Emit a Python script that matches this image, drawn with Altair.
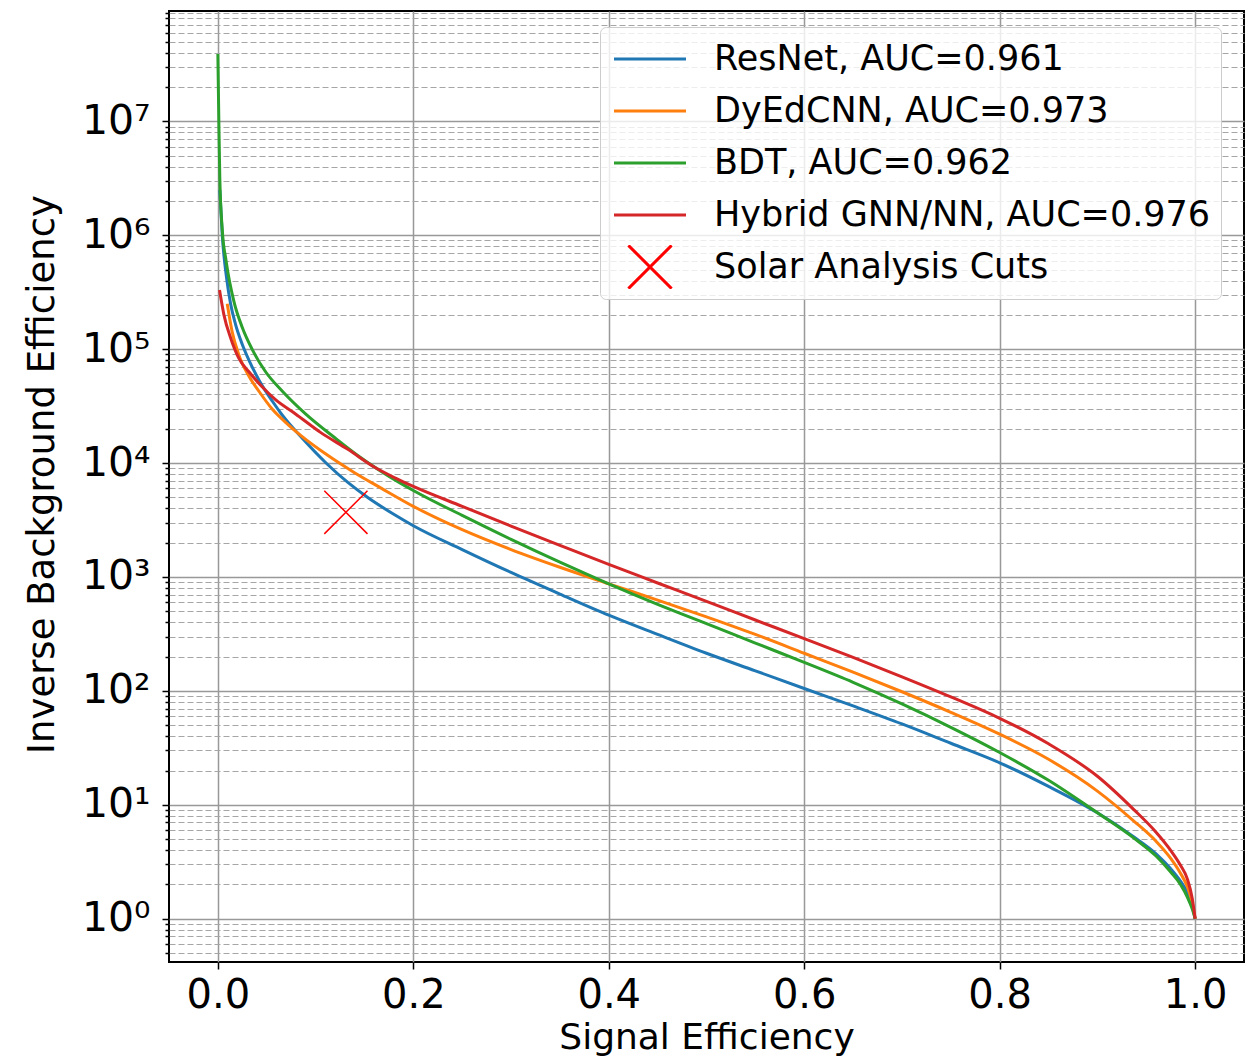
import altair as alt
import pandas as pd

# ---------------- data ----------------
series_names = ["ResNet, AUC=0.961", "DyEdCNN, AUC=0.973", "BDT, AUC=0.962", "Hybrid GNN/NN, AUC=0.976"]
marker_name = "Solar Analysis Cuts"
series_colors = ["#1f77b4", "#ff7f0e", "#2ca02c", "#d62728", "#ff0000"]

resnet_x = [0.002, 0.0045, 0.009, 0.013, 0.018, 0.025, 0.032, 0.042, 0.056, 0.066, 0.085, 0.112, 0.133,
            0.153, 0.18, 0.2, 0.25, 0.3, 0.35, 0.4, 0.45, 0.5, 0.55, 0.6, 0.65, 0.7, 0.75, 0.8, 0.85,
            0.9, 0.937, 0.96, 0.975, 0.985, 0.992, 0.997, 1.0]
resnet_y = [2.5e6, 1.0e6, 4.17e5, 2.51e5, 1.66e5, 1.10e5, 7.94e4, 5.37e4, 3.47e4, 2.63e4, 1.70e4, 9770, 6760,
            5010, 3550, 2820, 1740, 1096, 708, 462, 313, 214, 150, 105, 73.8, 51.3, 34.7, 23.4, 14.5,
            8.51, 5.25, 3.72, 2.75, 2.14, 1.70, 1.32, 1.0]

dyed_x = [0.0096, 0.0147, 0.0215, 0.032, 0.042, 0.056, 0.069, 0.085, 0.112, 0.139, 0.167, 0.2, 0.25, 0.3,
          0.35, 0.4, 0.45, 0.5, 0.55, 0.6, 0.65, 0.7, 0.75, 0.8, 0.85, 0.9, 0.937, 0.96, 0.975, 0.985,
          0.992, 0.997, 1.0]
dyed_y = [2.5e5, 1.41e5, 8.9e4, 5.75e4, 4.27e4, 2.95e4, 2.29e4, 1.74e4, 1.175e4, 8320, 6030, 4170, 2600, 1740,
          1217, 871, 627, 447, 313, 214, 146, 98.3, 64.9, 41.7, 25.1, 13.2, 7.24, 4.79, 3.39, 2.51,
          1.91, 1.38, 1.0]

bdt_x = [0.0, 0.001, 0.002, 0.0045, 0.0085, 0.0164, 0.025, 0.035, 0.049, 0.066, 0.09, 0.12, 0.146, 0.174, 0.2,
         0.25, 0.3, 0.35, 0.4, 0.45, 0.5, 0.55, 0.6, 0.65, 0.7, 0.75, 0.8, 0.85, 0.9, 0.937, 0.96, 0.975,
         0.985, 0.992, 0.997, 1.0]
bdt_y = [3.9e7, 1.0e7, 3.16e6, 1.12e6, 5.9e5, 2.63e5, 1.55e5, 1.0e5, 6.3e4, 4.27e4, 2.69e4, 1.66e4, 1.12e4, 7760,
         5750, 3470, 2140, 1350, 871, 575, 389, 263, 178, 119, 76.8, 47.9, 28.8, 16.4, 8.51, 5.13, 3.55, 2.57,
         2.0, 1.55, 1.22, 1.0]

hybrid_x = [0.0017, 0.0062, 0.013, 0.0215, 0.032, 0.045, 0.059, 0.0795, 0.105, 0.133, 0.16, 0.18, 0.2, 0.25,
            0.3, 0.35, 0.4, 0.45, 0.5, 0.55, 0.6, 0.65, 0.7, 0.75, 0.8, 0.85, 0.9, 0.937, 0.96, 0.975,
            0.985, 0.992, 0.997, 1.0]
hybrid_y = [3.3e5, 2.0e5, 1.26e5, 8.3e4, 6.3e4, 4.7e4, 3.6e4, 2.7e4, 1.86e4, 1.32e4, 9230, 7500, 6240, 4170,
            2800, 1895, 1288, 886, 610, 419, 288, 197, 133, 88.6, 57.5, 34.3, 17.8, 9.12, 5.75, 3.98,
            2.95, 2.24, 1.51, 1.0]

marker_x = [0.131]
marker_y = [3700]

x_ticks = [0.0, 0.2, 0.4, 0.6, 0.8, 1.0]
y_major = [1, 10, 100, 1000, 10000, 100000, 1000000, 10000000]
y_major_labels = ["10⁰", "10¹", "10²", "10³", "10⁴", "10⁵", "10⁶", "10⁷"]
y_minor = [0.5, 0.6, 0.7, 0.8, 0.9,
           2, 3, 4, 5, 6, 7, 8, 9,
           20, 30, 40, 50, 60, 70, 80, 90,
           200, 300, 400, 500, 600, 700, 800, 900,
           2000, 3000, 4000, 5000, 6000, 7000, 8000, 9000,
           20000, 30000, 40000, 50000, 60000, 70000, 80000, 90000,
           200000, 300000, 400000, 500000, 600000, 700000, 800000, 900000,
           2000000, 3000000, 4000000, 5000000, 6000000, 7000000, 8000000, 9000000,
           20000000, 30000000, 40000000, 50000000, 60000000, 70000000, 80000000, 90000000]

x_domain = [-0.05, 1.05]
y_domain = [0.417, 9.3e7]

# ---------------- tables ----------------
all_x = [resnet_x, dyed_x, bdt_x, hybrid_x]
all_y = [resnet_y, dyed_y, bdt_y, hybrid_y]
frames = {}
for name, xs, ys in zip(series_names, all_x, all_y):
    frames[name] = pd.DataFrame({"series": [name] * len(xs), "x": xs, "y": ys})
marker_df = pd.DataFrame({"series": [marker_name] * len(marker_x), "x": marker_x, "y": marker_y})

legend_domain = series_names + [marker_name]
line_path = "M-2,0H2"
cross_path = "M-1.2,-1.2L1.2,1.2M-1.2,1.2L1.2,-1.2"
shape_range = [line_path] * len(series_names) + [cross_path]

FONT = "DejaVu Sans"

is_major = "indexof([" + ",".join(str(v) for v in y_major) + "], datum.value) >= 0"
label_expr = "''"
for v, lab in reversed(list(zip(y_major, y_major_labels))):
    label_expr = f"datum.value == {v} ? '{lab}' : ({label_expr})"

x_axis = alt.Axis(
    values=x_ticks, format=".1f", labelFont=FONT, labelFontSize=40, labelColor="black",
    labelPadding=6, labelFlush=False, labelOverlap=False,
    tickSize=7, tickWidth=1.5, tickColor="black", domain=False,
    grid=True, gridColor="#999999", gridWidth=1.5,
    title="Signal Efficiency", titleFont=FONT, titleFontSize=36, titleFontWeight="normal",
    titleColor="black", titlePadding=5,
)
y_axis = alt.Axis(
    values=y_major + y_minor, labelExpr=label_expr, labelFont=FONT, labelFontSize=41, labelColor="black",
    labelPadding=12, labelOverlap=False, labelFlush=False,
    tickSize={"condition": {"test": is_major, "value": 7}, "value": 4},
    tickWidth=1.5, tickColor="black", domain=False,
    grid=True,
    gridColor={"condition": {"test": is_major, "value": "#999999"}, "value": "#a6a6a6"},
    gridWidth={"condition": {"test": is_major, "value": 1.5}, "value": 1.2},
    gridDash={"condition": {"test": is_major, "value": []}, "value": [6, 3]},
    title="Inverse Background Efficiency", titleFont=FONT, titleFontSize=37, titleFontWeight="normal",
    titleColor="black", titlePadding=20, titleY=463,
)

x_enc = alt.X("x:Q", scale=alt.Scale(domain=x_domain, nice=False, zero=False), axis=x_axis)
y_enc = alt.Y("y:Q", scale=alt.Scale(type="log", domain=y_domain, nice=False), axis=y_axis)

color_scale = alt.Scale(domain=legend_domain, range=series_colors)
shape_scale = alt.Scale(domain=legend_domain, range=shape_range)


def make_legend(with_encode):
    kw = dict(
        title=None, orient="none", legendX=431, legendY=16,
        fillColor="rgba(255,255,255,0.8)", strokeColor="#cccccc", cornerRadius=6, padding=10,
        labelFont=FONT, labelFontSize=35, labelColor="black", labelLimit=2000,
        symbolSize=1296, symbolStrokeWidth=3, symbolOffset=20.5, labelOffset=44.5, rowPadding=8,
        clipHeight=44, symbolOpacity=1, symbolFillColor="transparent",
    )
    if with_encode:
        kw["encode"] = {"symbols": {"update": {"strokeWidth": {
            "signal": f"datum.value === '{marker_name}' ? 1.5 : 3"}}}}
    return alt.Legend(**kw)


def build(with_encode):
    layers = []
    for name, col in zip(series_names, series_colors):
        layers.append(
            alt.Chart(frames[name]).mark_line(strokeWidth=3, clip=True, color=col,
                                              interpolate="monotone").encode(x=x_enc, y=y_enc)
        )
    leg = make_legend(with_encode)
    layers.append(
        alt.Chart(marker_df).mark_point(filled=False, size=1296, strokeWidth=1.5, opacity=1).encode(
            x=x_enc, y=y_enc,
            color=alt.Color("series:N", scale=color_scale, legend=leg),
            shape=alt.Shape("series:N", scale=shape_scale, legend=leg),
        )
    )
    ch = alt.layer(*layers).properties(
        width=1075, height=951,
        autosize=alt.AutoSizeParams(type="none"),
        padding={"left": 161, "top": 3, "right": 4, "bottom": 94},
    ).configure(font=FONT).configure_view(stroke="black", strokeWidth=2)
    ch.to_dict()
    return ch


try:
    chart = build(True)
except Exception:
    chart = build(False)

chart.save("out.html", embed_options={"renderer": "svg", "actions": False})
